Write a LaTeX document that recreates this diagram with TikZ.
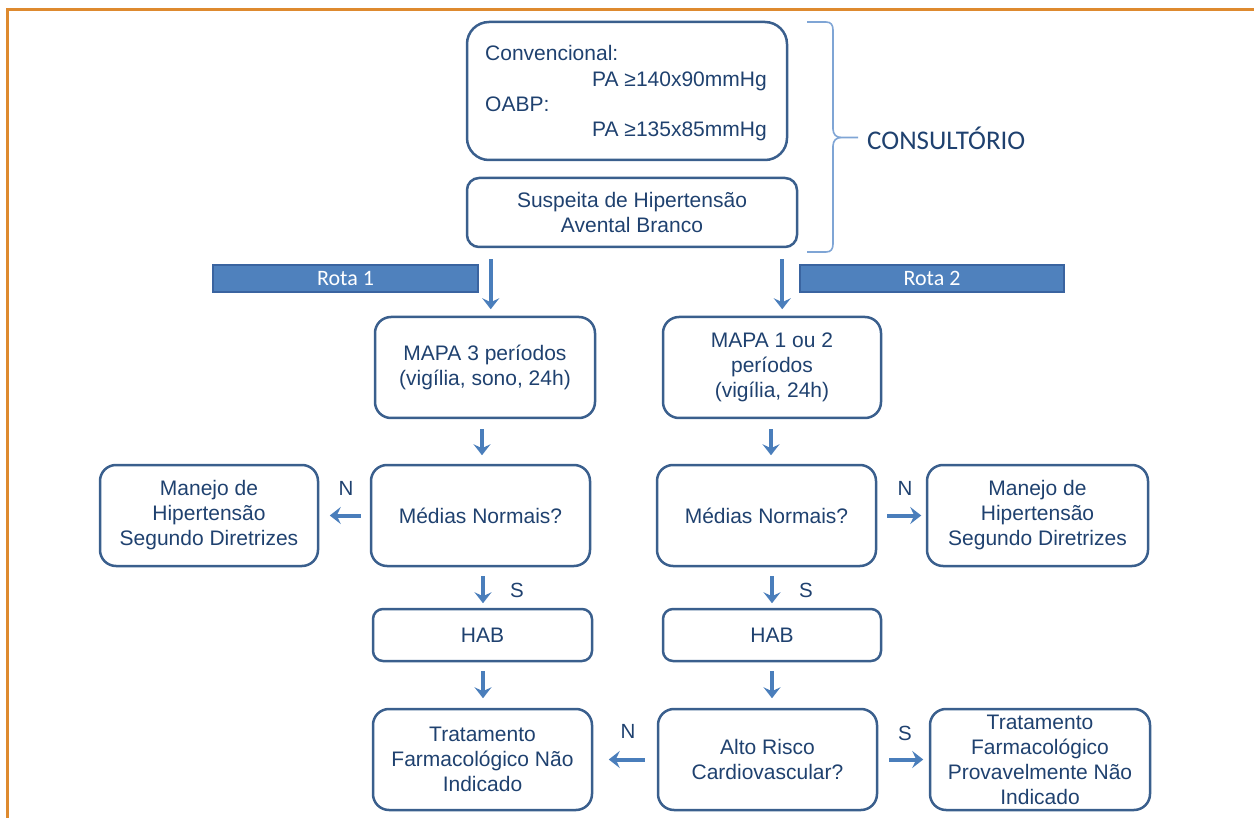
\documentclass[tikz,border=0pt]{standalone}
\usepackage{fontspec}
\setmainfont{Liberation Sans}
\newfontfamily\calib{Carlito}
\usetikzlibrary{arrows.meta,calc}
\definecolor{frameor}{HTML}{DE8A2F}
\definecolor{boxline}{HTML}{3A5F8D}
\definecolor{txt}{HTML}{1F416F}
\definecolor{arrcol}{HTML}{4A7EBB}
\definecolor{brack}{HTML}{7FA5D5}
\definecolor{rotafill}{HTML}{4F81BD}
\definecolor{rotaline}{HTML}{3A64A0}
\tikzset{
  box/.style={draw=boxline, line width=2.5pt, rounded corners=16pt, text=txt,
    align=center, inner sep=0pt, font=\fontsize{21}{25}\selectfont},
  plain/.style={text=txt, inner sep=0pt, font=\fontsize{21}{25}\selectfont},
  rota/.style={draw=rotaline, line width=1.5pt, fill=rotafill, text=white,
    inner sep=0pt, minimum height=27pt, font=\calib\fontsize{22}{24}\selectfont},
  arr/.style={draw=arrcol, line width=4pt, -{Stealth[length=11pt,width=17pt,inset=4pt]}},
  lbl/.style={text=txt, inner sep=0pt, font=\fontsize{20.5}{22}\selectfont}
}
\begin{document}
\begin{tikzpicture}[x=1pt,y=-1pt]
\useasboundingbox (0,0) rectangle (1254,818);
% frame
\draw[frameor, line width=3pt] (1254,9.5) -- (7.5,9.5) -- (7.5,818);

% top box
\node[box, rounded corners=22pt, minimum width=320pt, minimum height=138pt] (top) at (627,91) {};
\node[plain, anchor=base west] (t1) at (485,61) {Convencional:};
\node[plain, anchor=base west] (t2) at (592,87) {PA ≥140x90mmHg};
\node[plain, anchor=base west] (t3) at (485,112) {OABP:};
\node[plain, anchor=base west] (t4) at (592,137) {PA ≥135x85mmHg};

\node[box, rounded corners=12pt, minimum width=330pt, minimum height=69pt] (sus) at (632,212.5) {Suspeita de Hipertensão\\Avental Branco};

% bracket
\draw[brack, line width=1.6pt] (807,22) -- (826,22) .. controls (831,22) and (833,25) .. (833,30)
  -- (833,129) .. controls (833,134) and (836,137.5) .. (841,137.5) -- (858,137.5);
\draw[brack, line width=1.6pt] (841,137.5) .. controls (836,137.5) and (833,141) .. (833,146)
  -- (833,244) .. controls (833,249) and (831,252) .. (826,252) -- (807,252);
\node[text=txt, anchor=west, inner sep=0pt, font=\calib\fontsize{27}{29}\selectfont] (cons) at (867,138) {CONSULTÓRIO};

% rota bars
\node[rota, minimum width=265pt] (rota1) at (345.5,278.5) {Rota 1};
\node[rota, minimum width=264pt] (rota2) at (932,278.5) {Rota 2};

% level 1
\node[box, minimum width=220pt, minimum height=101pt] (mapa3) at (485,367.5) {MAPA 3 períodos\\(vigília, sono, 24h)};
\node[box, minimum width=218pt, minimum height=101pt] (mapa12) at (772,367.5) {MAPA 1 ou 2\\períodos\\(vigília, 24h)};

% level 2
\node[box, minimum width=219pt, minimum height=101pt] (medL) at (480.5,515.5) {Médias Normais?};
\node[box, minimum width=219pt, minimum height=101pt] (medR) at (766.5,515.5) {Médias Normais?};
\node[box, minimum width=218pt, minimum height=101pt] (manL) at (209,515.5) {Manejo de\\Hipertensão\\Segundo Diretrizes};
\node[box, minimum width=221pt, minimum height=101pt] (manR) at (1037.5,515.5) {Manejo de\\Hipertensão\\Segundo Diretrizes};

% level 3
\node[box, rounded corners=10pt, minimum width=219pt, minimum height=52pt] (habL) at (482.5,635) {HAB};
\node[box, rounded corners=10pt, minimum width=218pt, minimum height=52pt] (habR) at (772,635) {HAB};

% level 4
\node[box, minimum width=219pt, minimum height=101pt] (tratL) at (482.5,759.5) {Tratamento\\Farmacológico Não\\Indicado};
\node[box, minimum width=219pt, minimum height=101pt] (alto) at (767.5,759.5) {Alto Risco\\Cardiovascular?};
\node[box, minimum width=220pt, minimum height=101pt] (tratR) at (1040,759.5) {Tratamento\\Farmacológico\\Provavelmente Não\\Indicado};

% arrows
\draw[arr] ($(sus.south west)+(25,11)$) -- ++(0,50);
\draw[arr] ($(sus.south east)+(-16,11)$) -- ++(0,50);
\draw[arr] ($(mapa3.south)+(-3,10)$) -- ++(0,26);
\draw[arr] ($(mapa12.south)+(-1,10)$) -- ++(0,26);
\draw[arr] ($(medL.west)+(-9,0)$) -- ++(-31,0);
\draw[arr] ($(medR.east)+(10,0)$) -- ++(34,0);
\draw[arr] ($(medL.south)+(2.5,9)$) -- ++(0,27);
\draw[arr] ($(medR.south)+(5.5,9)$) -- ++(0,27);
\draw[arr] ($(habL.south)+(0.5,9)$) -- ++(0,27);
\draw[arr] ($(habR.south)+(0,9)$) -- ++(0,27);
\draw[arr] ($(alto.west)+(-12,0)$) -- ++(-36,0);
\draw[arr] ($(alto.east)+(11,0)$) -- ++(34,0);

% labels
\node[lbl] (nL) at (346,488) {N};
\node[lbl] (nR) at (905,488) {N};
\node[lbl] (sL) at (517,590) {S};
\node[lbl] (sR) at (806,590) {S};
\node[lbl] (nB) at (628,731) {N};
\node[lbl] (sB) at (905,733) {S};
\end{tikzpicture}
\end{document}
